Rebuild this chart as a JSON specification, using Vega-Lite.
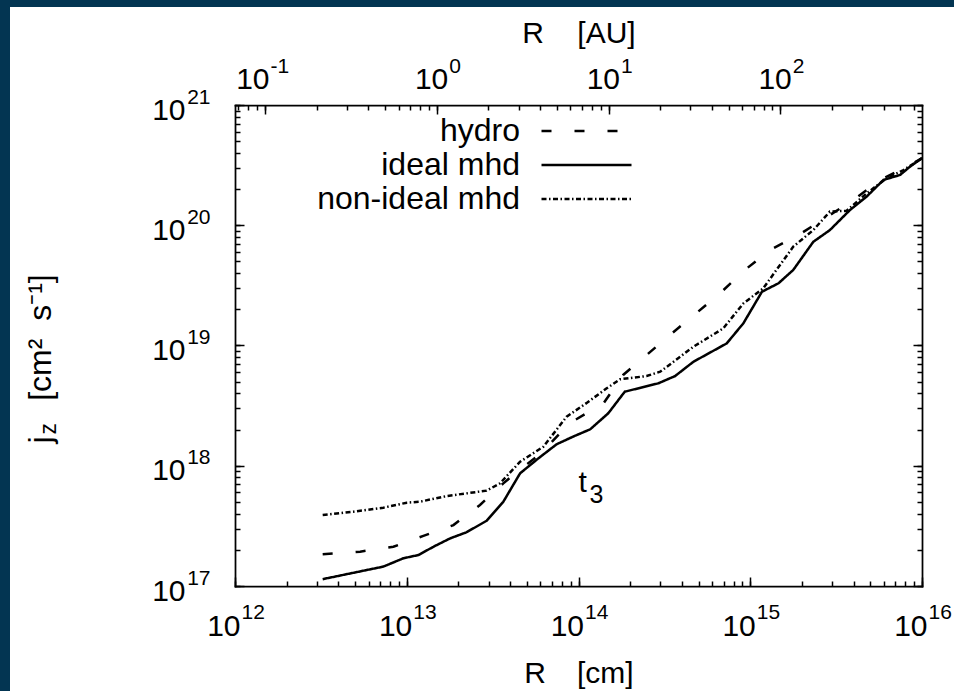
{
  "$schema": "https://vega.github.io/schema/vega-lite/v6.json",
  "width": 944,
  "height": 684,
  "autosize": {"type": "none"},
  "padding": {"left": 10, "top": 7, "right": 0, "bottom": 0},
  "background": "#033552",
  "datasets": {
    "profiles": [
      {"series": "hydro", "R": 3.24e12, "j": 1.84e17},
      {"series": "hydro", "R": 5.35e12, "j": 1.93e17},
      {"series": "hydro", "R": 8.36e12, "j": 2.12e17},
      {"series": "hydro", "R": 1.25e13, "j": 2.61e17},
      {"series": "hydro", "R": 1.87e13, "j": 3.21e17},
      {"series": "hydro", "R": 2.67e13, "j": 4.72e17},
      {"series": "hydro", "R": 3.65e13, "j": 7.14e17},
      {"series": "hydro", "R": 4.57e13, "j": 9.33e17},
      {"series": "hydro", "R": 6.03e13, "j": 1.26e18},
      {"series": "hydro", "R": 7.94e13, "j": 1.91e18},
      {"series": "hydro", "R": 9.55e13, "j": 2.40e18},
      {"series": "hydro", "R": 1.40e14, "j": 3.31e18},
      {"series": "hydro", "R": 1.82e14, "j": 5.69e18},
      {"series": "hydro", "R": 2.49e14, "j": 8.32e18},
      {"series": "hydro", "R": 3.49e14, "j": 1.26e19},
      {"series": "hydro", "R": 4.88e14, "j": 1.87e19},
      {"series": "hydro", "R": 6.82e14, "j": 2.80e19},
      {"series": "hydro", "R": 9.31e14, "j": 4.25e19},
      {"series": "hydro", "R": 1.30e15, "j": 6.22e19},
      {"series": "hydro", "R": 1.91e15, "j": 8.30e19},
      {"series": "hydro", "R": 2.79e15, "j": 1.17e20},
      {"series": "hydro", "R": 3.98e15, "j": 1.62e20},
      {"series": "hydro", "R": 5.69e15, "j": 2.38e20},
      {"series": "hydro", "R": 8.15e15, "j": 3.07e20},
      {"series": "hydro", "R": 1.0e16, "j": 3.61e20},

      {"series": "ideal mhd", "R": 3.24e12, "j": 1.14e17},
      {"series": "ideal mhd", "R": 7.31e12, "j": 1.45e17},
      {"series": "ideal mhd", "R": 9.55e12, "j": 1.70e17},
      {"series": "ideal mhd", "R": 1.17e13, "j": 1.81e17},
      {"series": "ideal mhd", "R": 1.43e13, "j": 2.12e17},
      {"series": "ideal mhd", "R": 1.79e13, "j": 2.49e17},
      {"series": "ideal mhd", "R": 2.23e13, "j": 2.80e17},
      {"series": "ideal mhd", "R": 2.92e13, "j": 3.49e17},
      {"series": "ideal mhd", "R": 3.65e13, "j": 5.02e17},
      {"series": "ideal mhd", "R": 4.57e13, "j": 8.65e17},
      {"series": "ideal mhd", "R": 5.83e13, "j": 1.15e18},
      {"series": "ideal mhd", "R": 7.46e13, "j": 1.51e18},
      {"series": "ideal mhd", "R": 9.33e13, "j": 1.75e18},
      {"series": "ideal mhd", "R": 1.17e14, "j": 2.01e18},
      {"series": "ideal mhd", "R": 1.49e14, "j": 2.73e18},
      {"series": "ideal mhd", "R": 1.86e14, "j": 4.13e18},
      {"series": "ideal mhd", "R": 2.92e14, "j": 4.85e18},
      {"series": "ideal mhd", "R": 3.65e14, "j": 5.57e18},
      {"series": "ideal mhd", "R": 4.67e14, "j": 7.33e18},
      {"series": "ideal mhd", "R": 7.29e14, "j": 1.04e19},
      {"series": "ideal mhd", "R": 9.12e14, "j": 1.53e19},
      {"series": "ideal mhd", "R": 1.17e15, "j": 2.80e19},
      {"series": "ideal mhd", "R": 1.46e15, "j": 3.29e19},
      {"series": "ideal mhd", "R": 1.78e15, "j": 4.25e19},
      {"series": "ideal mhd", "R": 2.33e15, "j": 7.29e19},
      {"series": "ideal mhd", "R": 2.91e15, "j": 9.12e19},
      {"series": "ideal mhd", "R": 3.81e15, "j": 1.34e20},
      {"series": "ideal mhd", "R": 4.76e15, "j": 1.73e20},
      {"series": "ideal mhd", "R": 5.96e15, "j": 2.38e20},
      {"series": "ideal mhd", "R": 7.45e15, "j": 2.62e20},
      {"series": "ideal mhd", "R": 8.51e15, "j": 3.07e20},
      {"series": "ideal mhd", "R": 1.0e16, "j": 3.61e20},

      {"series": "non-ideal mhd", "R": 3.24e12, "j": 3.89e17},
      {"series": "non-ideal mhd", "R": 4.89e12, "j": 4.15e17},
      {"series": "non-ideal mhd", "R": 7.31e12, "j": 4.48e17},
      {"series": "non-ideal mhd", "R": 1.0e13, "j": 4.93e17},
      {"series": "non-ideal mhd", "R": 1.19e13, "j": 5.02e17},
      {"series": "non-ideal mhd", "R": 1.71e13, "j": 5.60e17},
      {"series": "non-ideal mhd", "R": 2.92e13, "j": 6.21e17},
      {"series": "non-ideal mhd", "R": 3.49e13, "j": 7.14e17},
      {"series": "non-ideal mhd", "R": 4.57e13, "j": 1.08e18},
      {"series": "non-ideal mhd", "R": 6.24e13, "j": 1.44e18},
      {"series": "non-ideal mhd", "R": 8.53e13, "j": 2.56e18},
      {"series": "non-ideal mhd", "R": 1.12e14, "j": 3.34e18},
      {"series": "non-ideal mhd", "R": 1.46e14, "j": 4.41e18},
      {"series": "non-ideal mhd", "R": 1.75e14, "j": 5.24e18},
      {"series": "non-ideal mhd", "R": 2.49e14, "j": 5.57e18},
      {"series": "non-ideal mhd", "R": 2.99e14, "j": 6.05e18},
      {"series": "non-ideal mhd", "R": 4.67e14, "j": 9.77e18},
      {"series": "non-ideal mhd", "R": 6.97e14, "j": 1.39e19},
      {"series": "non-ideal mhd", "R": 9.12e14, "j": 2.24e19},
      {"series": "non-ideal mhd", "R": 1.19e15, "j": 2.99e19},
      {"series": "non-ideal mhd", "R": 1.78e15, "j": 6.64e19},
      {"series": "non-ideal mhd", "R": 2.33e15, "j": 9.12e19},
      {"series": "non-ideal mhd", "R": 2.91e15, "j": 1.30e20},
      {"series": "non-ideal mhd", "R": 3.64e15, "j": 1.32e20},
      {"series": "non-ideal mhd", "R": 4.76e15, "j": 1.84e20},
      {"series": "non-ideal mhd", "R": 6.10e15, "j": 2.41e20},
      {"series": "non-ideal mhd", "R": 7.80e15, "j": 2.88e20},
      {"series": "non-ideal mhd", "R": 1.0e16, "j": 3.61e20}
    ],
    "annotation": [
      {"base": "t", "sub": "3", "R": 1.0e14, "j": 6.05e17}
    ]
  },
  "layer": [
    {
      "data": {"name": "profiles"},
      "transform": [{"filter": "datum.series === 'hydro'"}],
      "mark": {"type": "line", "color": "black", "strokeWidth": 2.5},
      "encoding": {
        "x": {
          "field": "R", "type": "quantitative",
          "scale": {"type": "log", "domain": [1e12, 1e16], "range": [225, 912], "nice": false},
          "axis": {
            "orient": "bottom", "offset": -105,
            "values": [1e12, 2e12, 3e12, 4e12, 5e12, 6e12, 7e12, 8e12, 9e12, 1e13, 2e13, 3e13, 4e13, 5e13, 6e13, 7e13, 8e13, 9e13, 1e14, 2e14, 3e14, 4e14, 5e14, 6e14, 7e14, 8e14, 9e14, 1e15, 2e15, 3e15, 4e15, 5e15, 6e15, 7e15, 8e15, 9e15, 1e16],
            "labelExpr": "indexof([1e12,1e13,1e14,1e15,1e16], datum.value) >= 0 ? '10' : ''",
            "tickSize": -5,
            "labelAlign": "right", "labelBaseline": "alphabetic", "labelOffset": 5, "labelPadding": 54,
            "title": "R\u00a0\u00a0\u00a0\u2009[cm]", "titleY": 96, "titleBaseline": "alphabetic"
          }
        },
        "y": {
          "field": "j", "type": "quantitative",
          "scale": {"type": "log", "domain": [1e17, 1e21], "range": [579, 98], "nice": false},
          "axis": {
            "orient": "left", "offset": -225,
            "values": [1e17, 2e17, 3e17, 4e17, 5e17, 6e17, 7e17, 8e17, 9e17, 1e18, 2e18, 3e18, 4e18, 5e18, 6e18, 7e18, 8e18, 9e18, 1e19, 2e19, 3e19, 4e19, 5e19, 6e19, 7e19, 8e19, 9e19, 1e20, 2e20, 3e20, 4e20, 5e20, 6e20, 7e20, 8e20, 9e20, 1e21],
            "labelExpr": "indexof([1e17,1e18,1e19,1e20,1e21], datum.value) >= 0 ? '10' : ''",
            "tickSize": -5,
            "labelAlign": "right", "labelBaseline": "alphabetic", "labelOffset": 14, "labelPadding": 55,
            "title": "j\u00a0\u00a0\u00a0\u00a0[cm\u00b2\u00a0\u00a0s\u207b\u00b9]",
            "titleFontSize": 32, "titleAngle": 270, "titleAlign": "left", "titleBaseline": "alphabetic",
            "titleX": -185, "titleY": 436
          }
        },
        "strokeDash": {
          "field": "series", "type": "nominal",
          "scale": {"domain": ["hydro", "ideal mhd", "non-ideal mhd"], "range": [[10, 23], [1, 0], [5, 2.5, 1.5, 2.5]]},
          "legend": {
            "orient": "none", "legendX": 560, "legendY": 107.5, "title": null, "direction": "vertical",
            "symbolType": "M-3,0H3", "symbolSize": 900, "symbolStrokeWidth": 2.5, "symbolStrokeColor": "black",
            "labelFontSize": 32, "labelFont": "Liberation Sans", "labelColor": "black",
            "labelAlign": "right", "labelBaseline": "middle", "labelOffset": -83, "labelLimit": 0,
            "rowPadding": 1, "padding": 0, "offset": 0
          }
        }
      }
    },
    {
      "data": {"name": "profiles"},
      "transform": [{"filter": "datum.series === 'ideal mhd'"}],
      "mark": {"type": "line", "color": "black", "strokeWidth": 2.5},
      "encoding": {
        "x": {
          "field": "R", "type": "quantitative",
          "scale": {"type": "log", "domain": [1e12, 1e16], "range": [225, 912], "nice": false},
          "axis": {
            "orient": "bottom", "offset": -105,
            "values": [1e12, 1e13, 1e14, 1e15, 1e16],
            "labelExpr": "'' + round(log(datum.value) / LN10)",
            "tickSize": -9, "domain": false,
            "labelAlign": "left", "labelBaseline": "alphabetic", "labelOffset": 6, "labelPadding": 41, "labelFontSize": 21,
            "title": null
          }
        },
        "y": {
          "field": "j", "type": "quantitative",
          "scale": {"type": "log", "domain": [1e17, 1e21], "range": [579, 98], "nice": false},
          "axis": {
            "orient": "left", "offset": -225,
            "values": [1e17, 1e18, 1e19, 1e20, 1e21],
            "labelExpr": "'' + round(log(datum.value) / LN10)",
            "tickSize": -9, "domain": false,
            "labelAlign": "right", "labelBaseline": "alphabetic", "labelOffset": -2, "labelPadding": 34, "labelFontSize": 21,
            "title": "z",
            "titleFontSize": 23, "titleAngle": 270, "titleAlign": "left", "titleBaseline": "alphabetic",
            "titleX": -180, "titleY": 427
          }
        },
        "strokeDash": {
          "field": "series", "type": "nominal",
          "scale": {"domain": ["hydro", "ideal mhd", "non-ideal mhd"], "range": [[10, 23], [1, 0], [5, 2.5, 1.5, 2.5]]},
          "legend": {
            "orient": "none", "legendX": 560, "legendY": 107.5, "title": null, "direction": "vertical",
            "symbolType": "M-3,0H3", "symbolSize": 900, "symbolStrokeWidth": 2.5, "symbolStrokeColor": "black",
            "labelFontSize": 32, "labelFont": "Liberation Sans", "labelColor": "black",
            "labelAlign": "right", "labelBaseline": "middle", "labelOffset": -83, "labelLimit": 0,
            "rowPadding": 1, "padding": 0, "offset": 0
          }
        }
      }
    },
    {
      "data": {"name": "profiles"},
      "transform": [{"filter": "datum.series === 'non-ideal mhd'"}],
      "mark": {"type": "line", "color": "black", "strokeWidth": 2.5},
      "encoding": {
        "x": {
          "field": "R", "type": "quantitative",
          "scale": {"type": "log", "domain": [1e12, 1e16], "range": [225, 912], "nice": false},
          "axis": {
            "orient": "top", "offset": -98,
            "values": [1.0472e12, 1.1968e12, 1.3464e12, 1.496e12, 2.992e12, 4.488e12, 5.984e12, 7.48e12, 8.976e12, 1.0472e13, 1.1968e13, 1.3464e13, 1.496e13, 2.992e13, 4.488e13, 5.984e13, 7.48e13, 8.976e13, 1.0472e14, 1.1968e14, 1.3464e14, 1.496e14, 2.992e14, 4.488e14, 5.984e14, 7.48e14, 8.976e14, 1.0472e15, 1.1968e15, 1.3464e15, 1.496e15, 2.992e15, 4.488e15, 5.984e15, 7.48e15, 8.976e15],
            "labelExpr": "indexof([1.496e12,1.496e13,1.496e14,1.496e15], datum.value) >= 0 ? '10' : ''",
            "tickSize": -5,
            "labelAlign": "right", "labelBaseline": "alphabetic",
            "labelOffset": {"condition": {"test": "datum.value < 2e12", "value": 4}, "value": 11},
            "labelPadding": 22,
            "title": "R\u00a0\u00a0\u00a0\u00a0[AU]", "titleY": -63, "titleBaseline": "alphabetic"
          }
        },
        "y": {
          "field": "j", "type": "quantitative",
          "scale": {"type": "log", "domain": [1e17, 1e21], "range": [579, 98], "nice": false},
          "axis": {
            "orient": "right", "offset": -32,
            "values": [1e17, 2e17, 3e17, 4e17, 5e17, 6e17, 7e17, 8e17, 9e17, 1e18, 2e18, 3e18, 4e18, 5e18, 6e18, 7e18, 8e18, 9e18, 1e19, 2e19, 3e19, 4e19, 5e19, 6e19, 7e19, 8e19, 9e19, 1e20, 2e20, 3e20, 4e20, 5e20, 6e20, 7e20, 8e20, 9e20, 1e21],
            "labels": false,
            "tickSize": -5,
            "title": null
          }
        },
        "strokeDash": {
          "field": "series", "type": "nominal",
          "scale": {"domain": ["hydro", "ideal mhd", "non-ideal mhd"], "range": [[10, 23], [1, 0], [5, 2.5, 1.5, 2.5]]},
          "legend": {
            "orient": "none", "legendX": 560, "legendY": 107.5, "title": null, "direction": "vertical",
            "symbolType": "M-3,0H3", "symbolSize": 900, "symbolStrokeWidth": 2.5, "symbolStrokeColor": "black",
            "labelFontSize": 32, "labelFont": "Liberation Sans", "labelColor": "black",
            "labelAlign": "right", "labelBaseline": "middle", "labelOffset": -83, "labelLimit": 0,
            "rowPadding": 1, "padding": 0, "offset": 0
          }
        }
      }
    },
    {
      "data": {"name": "annotation"},
      "mark": {"type": "text", "align": "left", "baseline": "alphabetic", "fontSize": 30, "font": "Liberation Sans", "color": "black"},
      "encoding": {
        "x": {
          "field": "R", "type": "quantitative",
          "scale": {"type": "log", "domain": [1e12, 1e16], "range": [225, 912], "nice": false},
          "axis": {
            "orient": "top", "offset": -98,
            "values": [1.496e12, 1.496e13, 1.496e14, 1.496e15],
            "labelExpr": "'' + round(log(datum.value / 1.496e13) / LN10)",
            "tickSize": -9, "domain": false,
            "labelAlign": "left", "labelBaseline": "alphabetic",
            "labelOffset": {"condition": {"test": "datum.value < 2e12", "value": 5}, "value": 12},
            "labelPadding": 42, "labelFontSize": 21,
            "title": null
          }
        },
        "y": {
          "field": "j", "type": "quantitative",
          "scale": {"type": "log", "domain": [1e17, 1e21], "range": [579, 98], "nice": false},
          "axis": {
            "orient": "right", "offset": -32,
            "values": [1e17, 1e18, 1e19, 1e20, 1e21],
            "labels": false,
            "tickSize": -9, "domain": false,
            "title": null
          }
        },
        "text": {"field": "base"}
      }
    },
    {
      "data": {"name": "annotation"},
      "mark": {"type": "text", "align": "left", "baseline": "alphabetic", "fontSize": 25, "font": "Liberation Sans", "color": "black", "dx": 11, "dy": 11},
      "encoding": {
        "x": {
          "field": "R", "type": "quantitative",
          "scale": {"type": "log", "domain": [1e12, 1e16], "range": [225, 912], "nice": false},
          "axis": null
        },
        "y": {
          "field": "j", "type": "quantitative",
          "scale": {"type": "log", "domain": [1e17, 1e21], "range": [579, 98], "nice": false},
          "axis": null
        },
        "text": {"field": "sub"}
      }
    }
  ],
  "resolve": {"axis": {"x": "independent", "y": "independent"}},
  "config": {
    "view": {"fill": "white", "stroke": null},
    "font": "Liberation Sans",
    "axis": {
      "domainColor": "black", "domainWidth": 1.75, "domainCap": "square",
      "tickColor": "black", "tickWidth": 1.5,
      "labelColor": "black", "labelFont": "Liberation Sans", "labelFontSize": 30,
      "labelFlush": false, "labelOverlap": false, "labelBound": false, "labelLimit": 0,
      "titleColor": "black", "titleFont": "Liberation Sans", "titleFontSize": 30, "titleFontWeight": "normal",
      "grid": false
    }
  }
}
